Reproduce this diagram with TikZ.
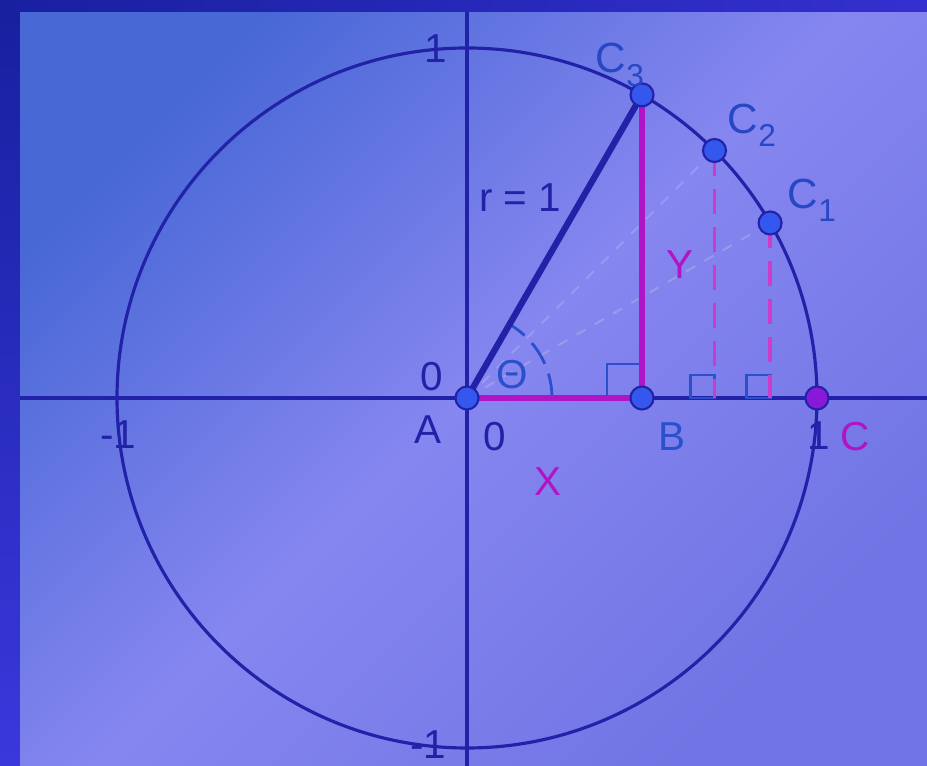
\documentclass[tikz,border=0pt]{standalone}
\usepackage{fontspec}
\setmainfont{Liberation Sans}
\usepackage{xcolor}
\usepackage{tikz}
\usetikzlibrary{calc, positioning}

\definecolor{navy}{HTML}{2222A8}
\definecolor{ptblue}{HTML}{3458EE}
\definecolor{lblblue}{HTML}{2A50CC}
\definecolor{mag}{HTML}{B014C4}
\definecolor{magdash}{HTML}{CC3CC8}
\definecolor{ptmag}{HTML}{8A18D8}

\begin{document}
\begin{tikzpicture}[>=latex, x=1cm, y=1cm,
    lbl/.style={font=\fontsize{11.5}{14}\selectfont, inner sep=0pt},
    sublbl/.style={font=\fontsize{12}{14}\selectfont, inner sep=0pt, text=lblblue!80!navy},
    pt/.style={circle, fill=ptblue, draw=navy, line width=0.6pt, minimum size=0.23cm, inner sep=0pt},
    rightmark/.style={draw=lblblue, line width=0.8pt}]
    % 0. Nền và khung
    \useasboundingbox (-4.67,-3.68) rectangle (4.60,3.98);
    \shade[top color={rgb,255:red,72;green,104;blue,214},
        bottom color={rgb,255:red,112;green,116;blue,228},
        middle color={rgb,255:red,134;green,134;blue,240}, shading angle=45]
        (-4.47,-3.68) rectangle (4.60,3.86);
    \shade[left color={rgb,255:red,24;green,32;blue,160}, right color={rgb,255:red,52;green,48;blue,208}]
        (-4.67,3.86) rectangle (4.60,3.98);
    \shade[top color={rgb,255:red,24;green,32;blue,160}, bottom color={rgb,255:red,58;green,56;blue,220}]
        (-4.67,-3.68) rectangle (-4.47,3.86);

    % 1. Các điểm
    \coordinate (A) at (0,0);
    \coordinate (B) at (1.75,0);
    \coordinate (C) at (3.5,0);
    \coordinate (C3) at (60:3.5);
    \coordinate (C2) at (45:3.5);
    \coordinate (C1) at (30:3.5);
    \coordinate (F2) at (C2 |- A);
    \coordinate (F1) at (C1 |- A);
    \coordinate (xl) at (-4.47,0);
    \coordinate (xr) at (4.60,0);
    \coordinate (yt) at (0,3.86);
    \coordinate (yb) at (0,-3.68);

    % 2. Hệ trục và đường tròn
    \draw[navy, line width=0.9pt] (xl) -- (xr);
    \draw[navy, line width=0.9pt] (yb) -- (yt);
    \draw[navy, line width=0.9pt] (A) circle (3.5);

    % 3. Các đường mờ
    \draw[white!85!orange, opacity=0.2, dashed, line width=0.6pt] (A) -- (C2);
    \draw[white!85!orange, opacity=0.2, dashed, line width=0.6pt] (A) -- (C1);

    % 4. Góc và ký hiệu vuông góc
    \draw[lblblue, dashed, dash pattern=on 7pt off 3pt, line width=0.8pt] (0.85,0) arc (0:60:0.85);
    \draw[rightmark] ($(B)+(-0.35,0)$) -- ++(0,0.34) -- ++(0.35,0);
    \draw[rightmark] ($(F2)+(-0.24,0)$) rectangle ++(0.24,0.23);
    \draw[rightmark] ($(F1)+(-0.24,0)$) rectangle ++(0.24,0.23);

    % 5. Tam giác
    \draw[magdash, line width=1.1pt, dash pattern=on 0.25cm off 0.13cm] (C2) -- (F2);
    \draw[magdash, line width=1.1pt, dash pattern=on 0.25cm off 0.13cm] (C1) -- (F1);
    \draw[mag, line width=1.8pt] (A) -- (B) -- (C3);
    \draw[navy, line width=1.8pt] (A) -- (C3);

    % 6. Điểm
    \node[pt] (pA) at (A) {};
    \node[pt] (pB) at (B) {};
    \node[pt, fill=ptmag] (pC) at (C) {};
    \node[pt] (pC1) at (C1) {};
    \node[pt] (pC2) at (C2) {};
    \node[pt] (pC3) at (C3) {};

    % 7. Nhãn
    \node[lbl, text=navy] (t1) at (-0.31,3.49) {1};
    \node[lbl, text=navy] (tm1) at (-3.49,-0.37) {-1};
    \node[lbl, text=navy] (tbm1) at (-0.39,-3.47) {-1};
    \node[lbl, text=navy] (tr1) at (3.52,-0.38) {1};
    \node[lbl, text=navy] (o1) at (-0.35,0.21) {0};
    \node[lbl, text=navy] (lA) at (-0.39,-0.32) {A};
    \node[lbl, text=navy] (o2) at (0.28,-0.39) {0};
    \node[lbl, text=lblblue] (lB) at (2.05,-0.39) {B};
    \node[lbl, text=mag] (lC) at (3.88,-0.39) {C};
    \node[lbl, text=mag] (lX) at (0.81,-0.84) {X};
    \node[lbl, text=mag] (lY) at (2.13,1.33) {Y};
    \node[lbl, text=navy] (lr) at (0.53,2.0) {r = 1};
    \node[lbl, text=lblblue] (lth) at (0.45,0.23) {Θ};
    \node[sublbl] (lC3) at (1.53,3.33) {C\raisebox{-0.6ex}{\small 3}};
    \node[sublbl] (lC2) at (2.85,2.73) {C\raisebox{-0.6ex}{\small 2}};
    \node[sublbl] (lC1) at (3.45,1.98) {C\raisebox{-0.6ex}{\small 1}};
\end{tikzpicture}
\end{document}
